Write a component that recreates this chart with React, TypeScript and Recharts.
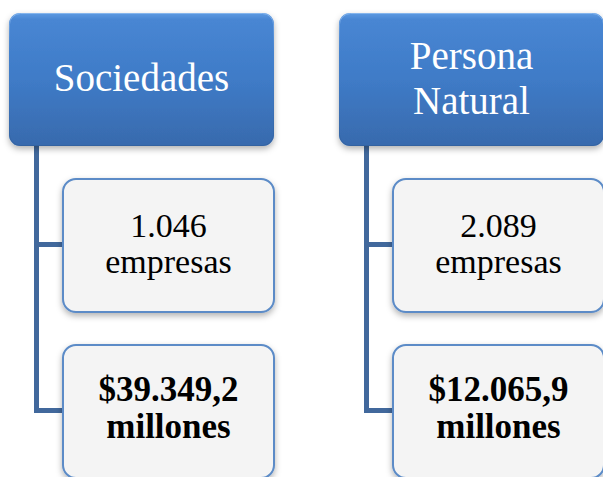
import React from "react";
import { ScatterChart, Scatter, XAxis, YAxis } from "recharts";

// ---- Data ----
const groups = ["Sociedades", "Persona Natural"];
const headerLines = [["Sociedades"], ["Persona", "Natural"]];
const companyCounts = ["1.046", "2.089"];
const countUnit = "empresas";
const amounts = ["$39.349,2", "$12.065,9"];
const amountUnit = "millones";

type Node = { col: number; row: number; kind: string; lines: string[]; group: string };

const nodes: Node[] = groups.flatMap((g, i) => [
  { col: i, row: 0, kind: "header", lines: headerLines[i], group: g },
  { col: i, row: 1, kind: "count", lines: [companyCounts[i], countUnit], group: g },
  { col: i, row: 2, kind: "amount", lines: [amounts[i], amountUnit], group: g },
]);
const childNodes = nodes.filter((n) => n.row > 0);

// ---- Layout / style constants ----
const W = 603;
const H = 477;
const ROW_STEP = 166;
const HEADER_W = 265;
const HEADER_H = 133;
const CHILD_LEFT = -78.5;
const CHILD_RIGHT = 132.5;
const CHILD_H = 133;
const SPINE_DX = -105;
const FONT = "'Liberation Serif', 'Times New Roman', serif";

const ConnectorShape = (props: any) => {
  const { cx, cy } = props;
  if (cx == null || cy == null) return null;
  const d = `M ${cx + SPINE_DX} ${cy - ROW_STEP} V ${cy - 1} H ${cx + CHILD_LEFT + 2}`;
  return <path d={d} fill="none" stroke="#41689c" strokeWidth={5} strokeLinejoin="miter" />;
};

const BoxShape = (props: any) => {
  const { cx, cy, payload } = props;
  if (cx == null || cy == null || !payload) return null;
  const n: Node = payload;
  if (n.kind === "header") {
    const x = cx - HEADER_W / 2;
    const y = cy - HEADER_H / 2;
    const fs = 39;
    const lh = 45;
    const base = cy + 11.5 - ((n.lines.length - 1) * lh) / 2;
    return (
      <g>
        <rect x={x} y={y} width={HEADER_W} height={HEADER_H} rx={11} ry={11} fill="url(#hdrGrad)" filter="url(#shadow)" />
        <rect x={x + 0.5} y={y + 0.5} width={HEADER_W - 1} height={HEADER_H - 1} rx={11} ry={11} fill="none" stroke="url(#hdrEdge)" strokeWidth={1} />
        <text textAnchor="middle" fill="#ffffff" fontFamily={FONT} fontSize={fs}>
          {n.lines.map((l, k) => (
            <tspan key={k} x={cx} y={base + k * lh}>
              {l}
            </tspan>
          ))}
        </text>
      </g>
    );
  }
  const x = cx + CHILD_LEFT;
  const w = CHILD_RIGHT - CHILD_LEFT;
  const y = cy - CHILD_H / 2;
  const bold = n.kind === "amount";
  const fs = bold ? 35 : 34;
  const lh = bold ? 37 : 36;
  const base = cy + (bold ? 8 : 9.5) - lh / 2;
  return (
    <g>
      <rect x={x} y={y} width={w} height={CHILD_H} rx={13} ry={13} fill="#f4f4f4" stroke="#5b8bc7" strokeWidth={2} filter="url(#shadow)" />
      <text textAnchor="middle" fill="#000000" fontFamily={FONT} fontSize={fs} fontWeight={bold ? "bold" : "normal"}>
        {n.lines.map((l, k) => (
          <tspan key={k} x={cx + (CHILD_LEFT + CHILD_RIGHT) / 2} y={base + k * lh}>
            {l}
          </tspan>
        ))}
      </text>
    </g>
  );
};

export default function App() {
  const xMin = -141.5 / 330;
  const xMax = (W - 141.5) / 330;
  const yMin = -79.5 / ROW_STEP;
  const yMax = (H - 79.5) / ROW_STEP;
  return (
    <div style={{ position: "absolute", left: 0, top: 0, width: W, height: H, background: "#ffffff" }}>
      <ScatterChart width={W} height={H} margin={{ top: 0, right: 0, bottom: 0, left: 0 }}>
        <defs>
          <linearGradient id="hdrGrad" x1="0" y1="0" x2="0" y2="1">
            <stop offset="0" stopColor="#5d9ae2" />
            <stop offset="0.05" stopColor="#4886d3" />
            <stop offset="0.5" stopColor="#3f7bc7" />
            <stop offset="1" stopColor="#386aad" />
          </linearGradient>
          <linearGradient id="hdrEdge" x1="0" y1="0" x2="0" y2="1">
            <stop offset="0" stopColor="#8ab8ee" stopOpacity={0.9} />
            <stop offset="0.3" stopColor="#4a86d0" stopOpacity={0.2} />
            <stop offset="1" stopColor="#2f5d99" stopOpacity={0.6} />
          </linearGradient>
          <filter id="shadow" x="-10%" y="-10%" width="120%" height="130%">
            <feDropShadow dx="0" dy="3" stdDeviation="3" floodColor="#000000" floodOpacity="0.3" />
          </filter>
        </defs>
        <XAxis type="number" dataKey="col" domain={[xMin, xMax]} hide allowDataOverflow />
        <YAxis type="number" dataKey="row" domain={[yMin, yMax]} reversed hide allowDataOverflow />
        <Scatter data={childNodes} shape={ConnectorShape} isAnimationActive={false} />
        <Scatter data={nodes} shape={BoxShape} isAnimationActive={false} />
      </ScatterChart>
    </div>
  );
}
